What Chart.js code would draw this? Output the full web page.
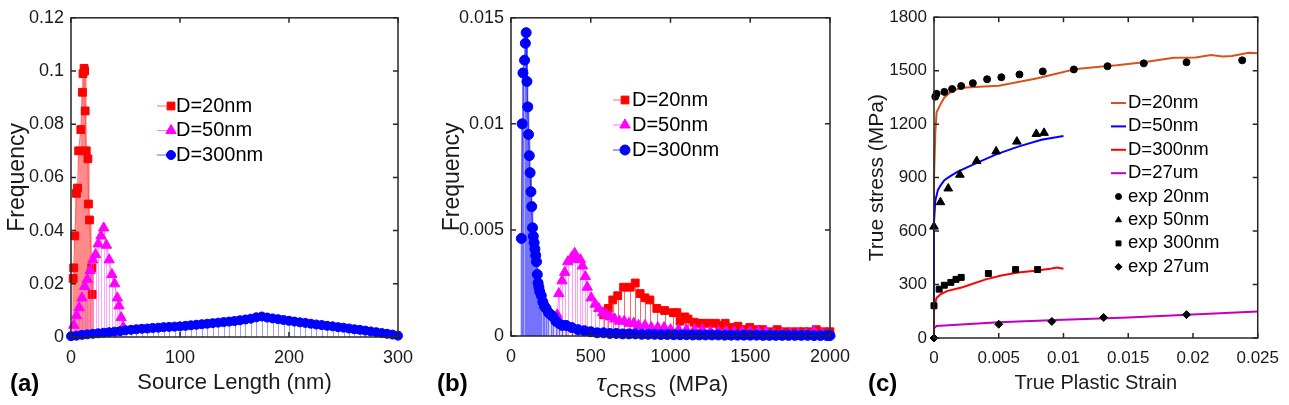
<!DOCTYPE html>
<html>
<head>
<meta charset="utf-8">
<script src="https://cdn.jsdelivr.net/npm/chart.js@4.4.1/dist/chart.umd.min.js"></script>
<style>
    body { margin: 0; background: #fff; }
    #wrap { position: relative; width: 1289px; height: 405px; }
    .panel { position: absolute; top: 0; height: 405px; }
</style>
</head>
<body>
<div id="wrap">
    <div class="panel" style="left:0;width:430px"><canvas id="chartA"></canvas></div>
    <div class="panel" style="left:430px;width:430px"><canvas id="chartB"></canvas></div>
    <div class="panel" style="left:860px;width:429px"><canvas id="chartC"></canvas></div>
</div>
<script>
// (a) source length distribution
const srcLen20 = [2, 2.5, 3.5, 5, 6, 7, 9, 10.5, 11, 12, 12.5, 13, 14, 15.5, 16, 17, 19, 19.5];
const freqA20 = [0.022, 0.026, 0.038, 0.054, 0.056, 0.070, 0.078, 0.092, 0.099, 0.101, 0.100, 0.085, 0.070, 0.067, 0.050, 0.044, 0.026, 0.016];
const srcLen50 = [2.5, 5, 7.5, 10, 12.5, 15, 17.5, 20, 22.5, 25, 27.5, 30, 32.5, 35, 37.5, 40, 42.5, 44, 46, 48];
const freqA50 = [0.0044, 0.008, 0.011, 0.0147, 0.019, 0.0217, 0.025, 0.029, 0.031, 0.035, 0.038, 0.041, 0.0345, 0.029, 0.0235, 0.020, 0.0147, 0.0117, 0.0073, 0.0037];
const srcLen300 = [0, 5, 10, 15, 20, 25, 30, 35, 40, 45, 50, 55, 60, 65, 70, 75, 80, 85, 90, 95,
    100, 105, 110, 115, 120, 125, 130, 135, 140, 145, 150, 155, 160, 165, 170, 175, 180, 185, 190, 195,
    200, 205, 210, 215, 220, 225, 230, 235, 240, 245, 250, 255, 260, 265, 270, 275, 280, 285, 290, 295, 300];
const freqA300 = [0.0003, 0.0005, 0.0008, 0.0010, 0.0012, 0.0014, 0.0016, 0.0018, 0.0020, 0.0022,
    0.0025, 0.0027, 0.0029, 0.0031, 0.0032, 0.0034, 0.0035, 0.0037, 0.0038, 0.0039,
    0.0040, 0.0042, 0.0044, 0.0046, 0.0048, 0.0050, 0.0052, 0.0054, 0.0056, 0.0058,
    0.0060, 0.0063, 0.0066, 0.0069, 0.0074, 0.0077, 0.0073, 0.0070, 0.0067, 0.0064,
    0.0061, 0.0058, 0.0055, 0.0053, 0.0050, 0.0047, 0.0045, 0.0042, 0.0040, 0.0037,
    0.0035, 0.0032, 0.0029, 0.0027, 0.0024, 0.0021, 0.0018, 0.0015, 0.0012, 0.0009, 0.0005];

// (b) critical resolved shear stress distribution
const tau20 = [580, 610, 638, 669, 706, 748, 779, 810, 840, 871, 914, 963, 1018, 1040, 1060, 1090, 1110, 1147, 1180, 1202,
    1240, 1282, 1310, 1343, 1380, 1423, 1460, 1497, 1540, 1577, 1620, 1669, 1710, 1755, 1800, 1835, 1870, 1914, 1960, 2000];
const freqB20 = [0.0010, 0.0013, 0.0017, 0.0019, 0.0023, 0.0023, 0.0025, 0.0020, 0.0018, 0.0017, 0.0013, 0.0012, 0.0011, 0.0011, 0.0007, 0.0009, 0.0008, 0.00065, 0.0006, 0.0006,
    0.0006, 0.0006, 0.0005, 0.0006, 0.0004, 0.00046, 0.0003, 0.0004, 0.0003, 0.0003, 0.0002, 0.0003, 0.0002, 0.0002, 0.0002, 0.0002, 0.0002, 0.0003, 0.0002, 0.0002];
const tau50 = [290, 300, 320, 337, 356, 380, 399, 411, 435, 448, 466, 478, 503, 528, 550, 575, 600, 625, 650, 680,
    710, 740, 770, 800, 840, 880, 920, 960, 1000, 1050, 1100, 1150, 1200, 1250, 1300, 1350, 1400, 1450, 1500, 1550,
    1600, 1650, 1700, 1750, 1800, 1850, 1900, 1950, 2000];
const freqB50 = [0.0010, 0.0020, 0.0026, 0.0030, 0.0035, 0.0037, 0.0039, 0.0036, 0.0036, 0.0033, 0.0028, 0.0023, 0.0018, 0.0015, 0.0013, 0.0011, 0.0010, 0.0009, 0.0008, 0.0007,
    0.0007, 0.0006, 0.0006, 0.0005, 0.0005, 0.0004, 0.0004, 0.0004, 0.0003, 0.0003, 0.0003, 0.0003, 0.0003, 0.0002, 0.0002, 0.0002, 0.0002, 0.0002, 0.0002, 0.0002,
    0.0002, 0.0001, 0.0001, 0.0001, 0.0001, 0.0001, 0.0002, 0.0001, 0.0001];
const tau300 = [65, 70, 75, 85, 90, 95, 100, 105, 110, 115, 120, 125, 130, 135, 140, 145, 150, 155, 160, 165,
    170, 175, 180, 190, 200, 210, 220, 235, 250, 265, 282, 300, 320, 345, 380, 420, 460, 500,
    540, 580, 620, 660, 700, 740, 780, 820, 860, 900, 940, 980, 1020, 1060, 1100, 1140, 1180, 1220, 1260, 1300,
    1340, 1380, 1420, 1460, 1500, 1540, 1580, 1620, 1660, 1700, 1740, 1780, 1820, 1860, 1900, 1940, 1980, 2000];
const freqB300 = [0.0046, 0.0100, 0.0124, 0.0130, 0.0138, 0.0143, 0.0120, 0.0108, 0.0095, 0.0085, 0.0077, 0.0068, 0.0061, 0.0051, 0.0047, 0.0044, 0.0041, 0.0038, 0.0035, 0.0029,
    0.0025, 0.0023, 0.0021, 0.0019, 0.0016, 0.0014, 0.0013, 0.0011, 0.0010, 0.0009, 0.0007, 0.0006, 0.0005, 0.0005, 0.0004, 0.0003, 0.00025, 0.0002,
    0.00015, 0.00015, 0.00012, 0.00012, 0.0001, 0.0001, 0.0001, 0.00008, 0.00008, 0.00008, 0.00007, 0.00007, 0.00006, 0.00006, 0.00006, 0.00005, 0.00005, 0.00005, 0.00005, 0.00005,
    0.00004, 0.00004, 0.00004, 0.00004, 0.00004, 0.00004, 0.00003, 0.00003, 0.00003, 0.00003, 0.00003, 0.00003, 0.00003, 0.00003, 0.00002, 0.00002, 0.00002, 0.00002];

// (c) stress-strain, simulations
const strainSim20 = [0, 0, 0.0001, 0.0002, 0.0005, 0.0008, 0.0014, 0.0022, 0.0035, 0.005, 0.0065, 0.008, 0.0096, 0.011, 0.0126, 0.0141, 0.0162, 0.0185, 0.0202, 0.0214, 0.0223, 0.023, 0.0243, 0.025];
const stressSim20 = [0, 900, 1150, 1267, 1311, 1350, 1388, 1404, 1410, 1415, 1436, 1458, 1485, 1510, 1521, 1530, 1547, 1572, 1574, 1588, 1580, 1582, 1600, 1598];
const strainSim50 = [0, 0, 0.0001, 0.0003, 0.0005, 0.0008, 0.0012, 0.0018, 0.0031, 0.0048, 0.0065, 0.0083, 0.01];
const stressSim50 = [0, 650, 770, 830, 855, 885, 905, 932, 976, 1030, 1074, 1112, 1134];
const strainSim300 = [0, 0, 0.0001, 0.0002, 0.0005, 0.001, 0.0022, 0.004, 0.0052, 0.0065, 0.0078, 0.009, 0.0095, 0.01];
const stressSim300 = [0, 150, 200, 225, 245, 263, 285, 329, 351, 367, 378, 389, 395, 389];
const strainSim27 = [0, 0, 0.0002, 0.005, 0.01, 0.015, 0.02, 0.025];
const stressSim27 = [0, 55, 68, 88, 103, 115, 132, 148];

// (c) experiments
const expStrain20 = [0.0001, 0.0002, 0.0008, 0.0014, 0.0021, 0.003, 0.0041, 0.0052, 0.0066, 0.0084, 0.0108, 0.0134, 0.0162, 0.0195, 0.0238];
const expStress20 = [1354, 1370, 1381, 1397, 1414, 1430, 1452, 1463, 1479, 1496, 1507, 1525, 1541, 1547, 1558];
const expStrain50 = [0, 0.0005, 0.0011, 0.002, 0.0033, 0.0048, 0.0064, 0.0079, 0.0085];
const expStress50 = [625, 762, 839, 916, 993, 1047, 1102, 1145, 1151];
const expStrain300 = [0, 0.0004, 0.0008, 0.0013, 0.0017, 0.0021, 0.0042, 0.0063, 0.008];
const expStress300 = [181, 274, 296, 312, 329, 340, 362, 384, 384];
const expStrain27 = [0, 0.005, 0.0091, 0.0131, 0.0195];
const expStress27 = [0, 77, 93, 115, 131];

const FONT = '"Liberation Sans", Arial, Helvetica, sans-serif';
const INK = "#1a1a1a";
Chart.defaults.font.family = FONT;
Chart.defaults.color = INK;

function toPoints(xs, ys) {
    return xs.map((x, i) => ({ x: x, y: ys[i] }));
}

// vertical stems from each marker down to zero, drawn right before the dataset
const stemPlugin = {
    id: "stems",
    beforeDatasetDraw(chart, args) {
        const ds = chart.data.datasets[args.index];
        if (!ds.stemColor) return;
        const ctx = chart.ctx;
        const y0 = chart.scales.y.getPixelForValue(0);
        ctx.save();
        ctx.strokeStyle = ds.stemColor;
        ctx.lineWidth = ds.stemWidth || 1;
        ctx.beginPath();
        args.meta.data.forEach(pt => {
            const px = Math.round(pt.x) + 0.5;
            ctx.moveTo(px, pt.y);
            ctx.lineTo(px, y0);
        });
        ctx.stroke();
        ctx.restore();
    }
};

// matlab style box with inward ticks on all four sides
const framePlugin = {
    id: "frame",
    afterDatasetsDraw(chart) {
        const { ctx, chartArea: a, scales: { x, y } } = chart;
        ctx.save();
        ctx.strokeStyle = "#262626";
        ctx.lineWidth = 1.5;
        ctx.strokeRect(a.left, a.top, a.right - a.left, a.bottom - a.top);
        ctx.beginPath();
        x.ticks.forEach(t => {
            const px = x.getPixelForValue(t.value);
            ctx.moveTo(px, a.bottom); ctx.lineTo(px, a.bottom - 5);
            ctx.moveTo(px, a.top); ctx.lineTo(px, a.top + 5);
        });
        y.ticks.forEach(t => {
            const py = y.getPixelForValue(t.value);
            ctx.moveTo(a.left, py); ctx.lineTo(a.left + 5, py);
            ctx.moveTo(a.right, py); ctx.lineTo(a.right - 5, py);
        });
        ctx.stroke();
        ctx.restore();
    }
};

const legendPlugin = {
    id: "panelLegend",
    afterDraw(chart, args, opts) {
        if (!opts.items) return;
        const ctx = chart.ctx;
        ctx.save();
        ctx.font = opts.font;
        ctx.textBaseline = "middle";
        opts.items.forEach((dsIndex, i) => {
            const ds = chart.data.datasets[dsIndex];
            const yy = opts.y + i * opts.dy;
            const r = ds.legendRadius || ds.pointRadius;
            if (ds.showLine) {
                ctx.strokeStyle = ds.borderColor;
                ctx.lineWidth = ds.borderWidth;
                ctx.beginPath();
                ctx.moveTo(opts.x, yy);
                ctx.lineTo(opts.x + opts.len, yy);
                ctx.stroke();
            }
            if (r > 0) {
                const mx = ds.showLine ? opts.x + opts.len : opts.x + opts.len / 2;
                ctx.fillStyle = ds.pointBackgroundColor;
                ctx.strokeStyle = ds.pointBorderColor;
                ctx.lineWidth = 1;
                Chart.helpers.drawPoint(ctx, { pointStyle: ds.pointStyle, radius: r, borderWidth: 1, rotation: 0 }, mx, yy);
            }
            ctx.fillStyle = "#000";
            ctx.fillText(ds.label, opts.textX, yy);
        });
        ctx.restore();
    }
};

const tagPlugin = {
    id: "panelTag",
    afterDraw(chart, args, opts) {
        if (!opts.text) return;
        const ctx = chart.ctx;
        ctx.save();
        ctx.font = "bold 24px " + FONT;
        ctx.fillStyle = "#000";
        ctx.textBaseline = "middle";
        ctx.fillText(opts.text, opts.x, opts.y);
        ctx.restore();
    }
};

// x label of (b) with the subscript
const tauTitlePlugin = {
    id: "tauTitle",
    afterDraw(chart, args, opts) {
        if (!opts.show) return;
        const ctx = chart.ctx;
        const a = chart.chartArea;
        const parts = [
            { t: "\u03c4", f: "italic 27px \"Liberation Serif\", serif", dy: 0 },
            { t: "CRSS", f: "18px " + FONT, dy: 6 },
            { t: "  (MPa)", f: "22px " + FONT, dy: 0 }
        ];
        let total = 0;
        parts.forEach(p => { ctx.font = p.f; p.w = ctx.measureText(p.t).width; total += p.w; });
        let x = (a.left + a.right) / 2 - total / 2 + opts.shift;
        ctx.save();
        ctx.fillStyle = INK;
        ctx.textBaseline = "alphabetic";
        parts.forEach(p => {
            ctx.font = p.f;
            ctx.fillText(p.t, x, opts.y + p.dy);
            x += p.w;
        });
        ctx.restore();
    }
};

function axis(cfg) {
    return {
        type: "linear",
        min: cfg.min,
        max: cfg.max,
        grid: { display: false, drawTicks: false },
        border: { display: false },
        ticks: {
            stepSize: cfg.step,
            padding: cfg.pad,
            color: INK,
            font: { size: cfg.tickSize },
            callback: v => String(+v.toFixed(4))
        },
        title: {
            display: !!cfg.title,
            text: cfg.title,
            color: INK,
            font: { size: cfg.titleSize },
            padding: cfg.titlePad
        },
        afterFit: s => {
            if (s.isHorizontal()) s.height = cfg.size;
            else s.width = cfg.size;
        }
    };
}

function baseOptions(right, xAxis, yAxis, plugins) {
    return {
        responsive: true,
        maintainAspectRatio: false,
        animation: false,
        events: [],
        layout: { padding: { left: 0, right: right, top: 10, bottom: 0 } },
        plugins: Object.assign({ legend: { display: false }, tooltip: { enabled: false } }, plugins),
        scales: { x: xAxis, y: yAxis }
    };
}

function stemSeries(label, xs, ys, color, lineColor, stemColor, stemWidth, style, radius, order) {
    return {
        label: label,
        data: toPoints(xs, ys),
        showLine: true,
        borderColor: lineColor,
        borderWidth: 1,
        pointStyle: style,
        pointRadius: radius,
        pointBackgroundColor: color,
        pointBorderColor: color,
        pointBorderWidth: 1,
        stemColor: stemColor,
        stemWidth: stemWidth,
        order: order,
        clip: false
    };
}

function createSourceChart() {
    new Chart(document.getElementById("chartA"), {
        type: "scatter",
        data: {
            datasets: [
                stemSeries("D=20nm", srcLen20, freqA20, "#ff0000", "rgba(255,70,70,0.8)", "rgba(255,60,60,0.6)", 2.2, "rect", 5.5, 3),
                stemSeries("D=50nm", srcLen50, freqA50, "#ff00ff", "rgba(255,90,255,0.8)", "rgba(255,60,255,0.45)", 1, "triangle", 6, 2),
                stemSeries("D=300nm", srcLen300, freqA300, "#0000ff", "rgba(60,60,255,0.8)", "rgba(40,40,255,0.45)", 1, "circle", 4.5, 1)
            ]
        },
        options: baseOptions(32,
            axis({ min: 0, max: 300, step: 100, pad: 10, tickSize: 18, size: 68, title: "Source Length (nm)", titleSize: 22, titlePad: { top: 0, bottom: 9 } }),
            axis({ min: 0, max: 0.12, step: 0.02, pad: 7, tickSize: 18, size: 71, title: "Frequency", titleSize: 23, titlePad: { top: 4, bottom: 0 } }),
            {
                panelLegend: { items: [0, 1, 2], x: 157, len: 14, textX: 176, y: 106, dy: 24.5, font: "20px " + FONT },
                panelTag: { text: "(a)", x: 10, y: 384 }
            }),
        plugins: [stemPlugin, framePlugin, legendPlugin, tagPlugin]
    });
}

function createTauChart() {
    new Chart(document.getElementById("chartB"), {
        type: "scatter",
        data: {
            datasets: [
                stemSeries("D=20nm", tau20, freqB20, "#ff0000", "rgba(255,70,70,0.8)", "rgba(255,0,0,0.6)", 1, "rect", 5.5, 3),
                stemSeries("D=50nm", tau50, freqB50, "#ff00ff", "rgba(255,90,255,0.8)", "rgba(255,60,255,0.5)", 1, "triangle", 6, 2),
                stemSeries("D=300nm", tau300, freqB300, "#0000ff", "rgba(30,30,255,0.85)", "rgba(40,40,255,0.65)", 1.6, "circle", 5, 1)
            ]
        },
        options: baseOptions(22,
            axis({ min: 0, max: 2000, step: 500, pad: 10, tickSize: 18, size: 69, title: "", titleSize: 22, titlePad: 0 }),
            axis({ min: 0, max: 0.015, step: 0.005, pad: 7, tickSize: 18, size: 81, title: "Frequency", titleSize: 23, titlePad: { top: 9, bottom: 0 } }),
            {
                panelLegend: { items: [0, 1, 2], x: 183, len: 12, textX: 202, y: 100, dy: 25, font: "20px " + FONT },
                panelTag: { text: "(b)", x: 7, y: 384 },
                tauTitle: { show: true, y: 391, shift: -8 }
            }),
        plugins: [stemPlugin, framePlugin, legendPlugin, tagPlugin, tauTitlePlugin]
    });
}

function simLine(label, xs, ys, color, order) {
    return {
        label: label,
        data: toPoints(xs, ys),
        showLine: true,
        borderColor: color,
        borderWidth: 2,
        pointRadius: 0,
        order: order,
        clip: false
    };
}

function expPoints(label, xs, ys, style, radius, legendRadius) {
    return {
        label: label,
        data: toPoints(xs, ys),
        showLine: false,
        pointStyle: style,
        pointRadius: radius,
        legendRadius: legendRadius,
        pointBackgroundColor: "#000",
        pointBorderColor: "#000",
        pointBorderWidth: 1,
        order: 0,
        clip: false
    };
}

function createStressChart() {
    new Chart(document.getElementById("chartC"), {
        type: "scatter",
        data: {
            datasets: [
                simLine("D=20nm", strainSim20, stressSim20, "#d95319", 8),
                simLine("D=50nm", strainSim50, stressSim50, "#0000ff", 7),
                simLine("D=300nm", strainSim300, stressSim300, "#ff0000", 6),
                simLine("D=27um", strainSim27, stressSim27, "#c000c0", 5),
                expPoints("exp 20nm", expStrain20, expStress20, "circle", 3.5, 3),
                expPoints("exp 50nm", expStrain50, expStress50, "triangle", 5, 3.5),
                expPoints("exp 300nm", expStrain300, expStress300, "rect", 4.2, 3.5),
                expPoints("exp 27um", expStrain27, expStress27, "rectRot", 4, 3.5)
            ]
        },
        options: baseOptions(26,
            axis({ min: 0, max: 0.025, step: 0.005, pad: 10, tickSize: 17, size: 67, title: "True Plastic Strain", titleSize: 20, titlePad: { top: 0, bottom: 10 } }),
            axis({ min: 0, max: 1800, step: 300, pad: 7, tickSize: 17, size: 74, title: "True stress (MPa)", titleSize: 21, titlePad: { top: 5, bottom: 0 } }),
            {
                panelLegend: { items: [0, 1, 2, 3, 4, 5, 6, 7], x: 251, len: 15, textX: 268, y: 103, dy: 23.4, font: "18.5px " + FONT },
                panelTag: { text: "(c)", x: 8, y: 384 }
            }),
        plugins: [framePlugin, legendPlugin, tagPlugin]
    });
}

document.addEventListener("DOMContentLoaded", () => {
    createSourceChart();
    createTauChart();
    createStressChart();
});
</script>
</body>
</html>
